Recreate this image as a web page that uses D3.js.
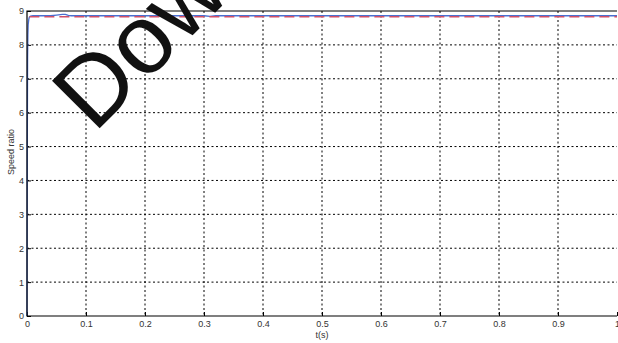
<!DOCTYPE html>
<html>
<head>
<meta charset="utf-8">
<script src="https://cdn.jsdelivr.net/npm/d3@7"></script>
<style>
  body { margin: 0; background: #fff; }
  svg { display: block; font-family: "Liberation Sans", Arial, sans-serif; }
</style>
</head>
<body>
<svg id="chart" width="618" height="343"></svg>
<script>
const blueT = [0, 0.0005, 0.001, 0.0015, 0.002, 0.003, 0.004, 0.006, 0.01, 0.04, 0.05, 0.06, 0.065, 0.07, 0.075, 0.1, 0.2, 0.3, 0.31, 0.32, 0.4, 0.5, 0.6, 0.7, 0.8, 0.9, 1.0];
const blueV = [0, 5.0, 7.6, 8.3, 8.6, 8.75, 8.82, 8.85, 8.86, 8.86, 8.88, 8.9, 8.9, 8.87, 8.86, 8.86, 8.86, 8.86, 8.84, 8.86, 8.86, 8.86, 8.86, 8.86, 8.86, 8.86, 8.86];
const redT = [0.004, 1.0];
const redV = [8.83, 8.83];
const xTicks = [0, 0.1, 0.2, 0.3, 0.4, 0.5, 0.6, 0.7, 0.8, 0.9, 1];
const yTicks = [0, 1, 2, 3, 4, 5, 6, 7, 8, 9];

const svg = d3.select('#chart');
const mLeft = 27, mRight = 617, mTop = 11, mBottom = 316;

const x = d3.scaleLinear().domain([0, 1]).range([mLeft, mRight]);
const y = d3.scaleLinear().domain([0, 9]).range([mBottom, mTop]);

// grid
svg.append('g')
  .selectAll('line')
  .data(xTicks.slice(1, -1))
  .enter()
  .append('line')
  .attr('x1', d => x(d)).attr('x2', d => x(d))
  .attr('y1', mTop).attr('y2', mBottom)
  .attr('stroke', '#000').attr('stroke-width', 1)
  .attr('stroke-dasharray', '2,2.5');

svg.append('g')
  .selectAll('line')
  .data(yTicks.slice(1, -1))
  .enter()
  .append('line')
  .attr('x1', mLeft).attr('x2', mRight)
  .attr('y1', d => y(d)).attr('y2', d => y(d))
  .attr('stroke', '#000').attr('stroke-width', 1)
  .attr('stroke-dasharray', '2,2.5');

// axes
const xAxis = d3.axisBottom(x).tickValues(xTicks).tickSize(-4).tickPadding(5)
  .tickFormat(d => String(d));
const gx = svg.append('g').attr('transform', `translate(0,${mBottom})`).call(xAxis);
gx.select('.domain').remove();
const yAxis = d3.axisLeft(y).tickValues(yTicks).tickSize(-4).tickPadding(3);
const gy = svg.append('g').attr('transform', `translate(${mLeft},0)`).call(yAxis);
gy.select('.domain').remove();
svg.selectAll('.tick text').attr('font-size', 9).attr('fill', '#333')
  .attr('font-family', '"Liberation Sans", Arial, sans-serif');
svg.selectAll('.tick line').attr('stroke', '#000');

// lines
const line = d3.line().x(d => x(d[0])).y(d => y(d[1]));
svg.append('path')
  .datum(blueT.map((t, i) => [t, blueV[i]]))
  .attr('d', line)
  .attr('fill', 'none')
  .attr('stroke', '#4a6fd0')
  .attr('stroke-width', 1.3);
svg.append('path')
  .datum(redT.map((t, i) => [t, redV[i]]))
  .attr('d', line)
  .attr('fill', 'none')
  .attr('stroke', '#d0506a')
  .attr('stroke-width', 1.3)
  .attr('stroke-dasharray', '10,5');

// frame
svg.append('path')
  .attr('d', `M${mRight},${mTop}H${mLeft}V${mBottom}H${mRight}`)
  .attr('fill', 'none').attr('stroke', '#000').attr('stroke-width', 1.2);

// labels
svg.append('text')
  .attr('x', x(0.5)).attr('y', 338)
  .attr('text-anchor', 'middle').attr('font-size', 9).attr('fill', '#333')
  .text('t(s)');
svg.append('text')
  .attr('transform', 'translate(14,152) rotate(-90)')
  .attr('text-anchor', 'middle').attr('font-size', 9).attr('fill', '#333')
  .text('Speed ratio');

// watermark
svg.append('text')
  .attr('transform', 'translate(94,134) rotate(-45)')
  .attr('font-size', 98)
  .attr('fill', '#111')
  .text('Download');
</script>
</body>
</html>
